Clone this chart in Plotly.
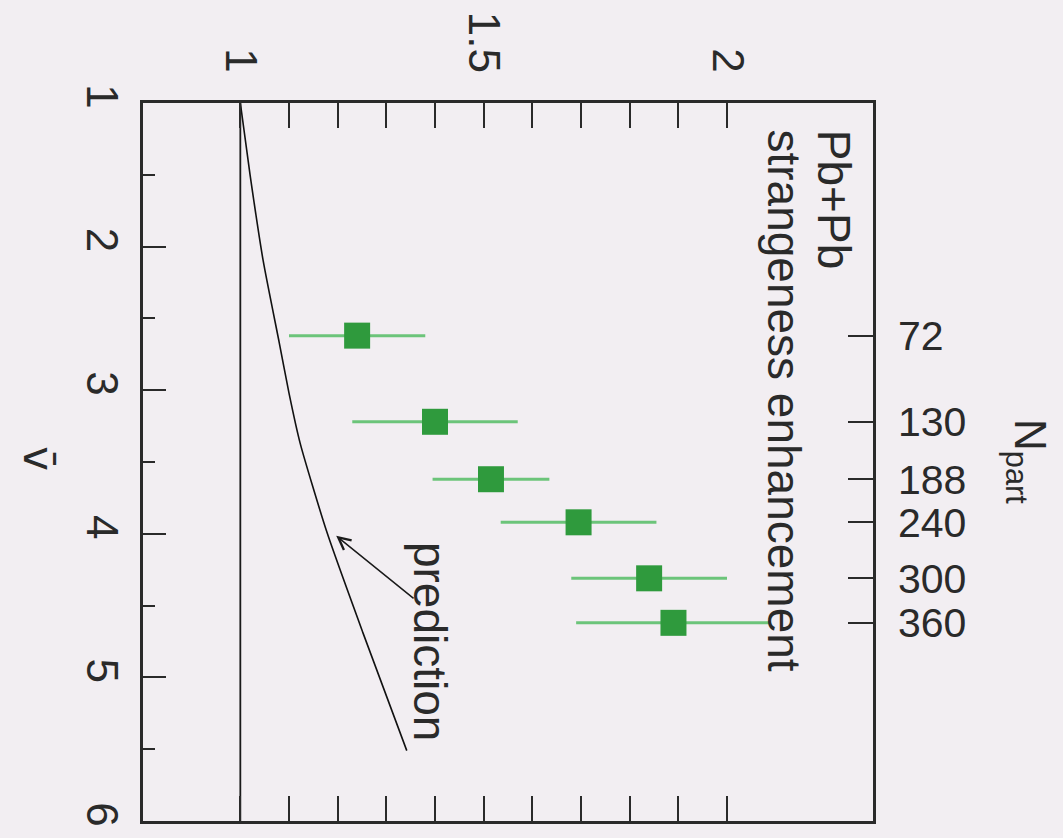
import plotly.graph_objects as go

# Strangeness enhancement in Pb+Pb versus mean number of collisions (nu-bar)
nu_bar = [2.62, 3.22, 3.62, 3.92, 4.31, 4.62]
enhancement = [1.24, 1.40, 1.515, 1.695, 1.84, 1.89]
enh_err = [0.14, 0.17, 0.12, 0.16, 0.16, 0.20]
n_part = ["72", "130", "188", "240", "300", "360"]

# Model prediction curve
pred_nu = [1.0, 1.5, 2.1, 2.67, 3.02, 3.37, 3.99, 4.69, 5.51]
pred_enh = [1.0, 1.02, 1.047, 1.08, 1.10, 1.123, 1.178, 1.252, 1.342]

# Axis ticks
enh_ticks = [1, 1.5, 2]
enh_ticktext = ["1", "1.5", "2"]
enh_minor = [1.1, 1.2, 1.3, 1.4, 1.6, 1.7, 1.8, 1.9]
nu_ticks = [1, 2, 3, 4, 5, 6]
nu_minor = [1.5, 2.5, 3.5, 4.5, 5.5]

BG = "#f2eef2"
INK = "#2a2a2a"
FONT = "Liberation Sans, Arial, sans-serif"

fig = go.Figure()

# reference line at enhancement = 1
fig.add_trace(go.Scatter(x=[1, 1], y=[1, 6], mode="lines",
                         line=dict(color="#1a1a1a", width=1.8),
                         showlegend=False, hoverinfo="skip"))

fig.add_trace(go.Scatter(x=pred_enh, y=pred_nu, mode="lines",
                         line=dict(color="#111111", width=1.6, shape="spline", smoothing=0.6),
                         showlegend=False))

fig.add_trace(go.Scatter(
    x=enhancement, y=nu_bar, mode="markers",
    marker=dict(symbol="square", size=26, color="#2f9a3d", line=dict(width=0)),
    error_x=dict(type="data", array=enh_err, color="#6cc47a", thickness=3, width=0),
    showlegend=False))

# carrier for the N_part axis on the right
fig.add_trace(go.Scatter(x=enhancement, y=nu_bar, yaxis="y2", mode="markers",
                         marker=dict(opacity=0), showlegend=False, hoverinfo="skip"))

axis_common = dict(showgrid=False, zeroline=False, showline=True, linecolor=INK,
                   linewidth=2.5, ticks="inside", tickcolor=INK, tickwidth=2,
                   automargin=False,
                   tickfont=dict(family=FONT, size=44, color=INK))

fig.update_layout(
    width=1063, height=838,
    margin=dict(l=143, r=190, t=103, b=17),
    paper_bgcolor=BG, plot_bgcolor=BG,
    font=dict(family=FONT, color=INK),
    xaxis=dict(axis_common, range=[0.8, 2.3], side="top", tickmode="array",
               tickvals=enh_ticks, ticktext=enh_ticktext, ticklen=25,
               mirror="allticks", tickangle=90, ticklabelstandoff=12,
               minor=dict(tickmode="array", tickvals=enh_minor, ticks="inside",
                          ticklen=13, tickwidth=1.5, tickcolor=INK, showgrid=False)),
    yaxis=dict(axis_common, range=[6, 1], tickmode="array", tickvals=nu_ticks,
               ticktext=[str(v) for v in nu_ticks], ticklen=23, mirror=True,
               tickangle=90, ticklabelstandoff=0,
               minor=dict(tickmode="array", tickvals=nu_minor, ticks="inside",
                          ticklen=12, tickwidth=1.5, tickcolor=INK, showgrid=False)),
    yaxis2=dict(overlaying="y", side="right", range=[6, 1], tickmode="array",
                tickvals=nu_bar, ticktext=n_part, ticks="inside", ticklen=25,
                tickcolor=INK, tickwidth=2, showgrid=False, zeroline=False,
                showline=False, ticklabelstandoff=24, automargin=False,
                tickfont=dict(family=FONT, size=41, color=INK)),
)

ann_font = dict(family=FONT, size=46, color=INK)
fig.add_annotation(text="v\u0304", xref="paper", yref="paper", x=-0.18, y=0.505,
                   showarrow=False, textangle=90,
                   font=dict(family="DejaVu Sans", size=42, color=INK))
fig.add_annotation(text="N<sub>part</sub>", xref="paper", yref="paper", x=1.252, y=0.50,
                   showarrow=False, textangle=90,
                   font=dict(family=FONT, size=44, color=INK))
fig.add_annotation(text="Pb+Pb", x=2.22, y=1.17, xanchor="center", yanchor="top",
                   showarrow=False, textangle=90, font=ann_font)
fig.add_annotation(text="strangeness enhancement", x=2.117, y=1.17, xanchor="center",
                   yanchor="top", showarrow=False, textangle=90, font=ann_font)
fig.add_annotation(text="prediction", x=1.39, y=4.04, xanchor="center", yanchor="top",
                   showarrow=False, textangle=90, font=ann_font)
fig.add_annotation(text="", x=1.197, y=4.014, ax=1.359, ay=4.458, axref="x", ayref="y",
                   showarrow=True, arrowhead=5, arrowsize=1.6, arrowwidth=1.5,
                   arrowcolor="#1a1a1a")

fig.write_html("out.html")
